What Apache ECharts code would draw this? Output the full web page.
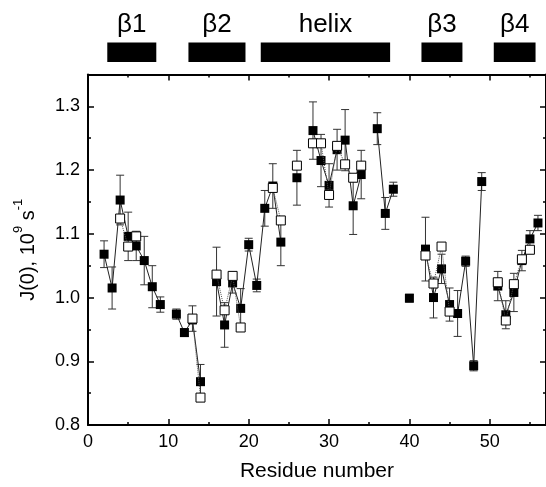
<!DOCTYPE html>
<html><head><meta charset="utf-8">
<script src="https://cdn.jsdelivr.net/npm/echarts@6/dist/echarts.min.js"></script>
<style>html,body{margin:0;padding:0;background:#fff}#c{width:546px;height:487px}</style>
</head><body><div id="c"></div>
<script>
// Residue numbers (gaps = missing residues)
const residues = [2,3,4,5,6,7,8,9,10,11,12,13,14,15,16,17,18,19,20,21,22,23,24,25,26,27,28,29,30,31,32,33,34,35,36,37,38,39,40,41,42,43,44,45,46,47,48,49,50,51,52,53,54,55,56];
// J(0), filled squares
const jFilled = [1.068,1.015,1.153,1.096,1.081,1.058,1.017,0.989,null,0.974,0.945,0.965,0.868,null,1.025,0.957,1.023,0.983,1.083,1.019,1.140,1.175,1.087,null,1.188,null,1.262,1.215,1.176,1.232,1.247,1.144,1.193,null,1.265,1.132,1.170,null,0.999,null,1.076,1.000,1.045,0.989,0.975,1.057,0.893,1.182,null,1.018,0.973,1.008,1.058,1.092,1.117];
const errFilled = [0.021,0.033,0.039,0.038,0.023,0.038,0.033,0.012,null,0.008,0.006,0.006,0.027,null,0.054,0.035,0.016,0.031,0.010,0.010,0.028,0.035,0.037,null,0.043,null,0.045,0.041,0.034,0.032,0.048,0.045,0.038,null,0.025,0.025,0.011,null,0.006,null,0.050,0.032,0.023,0.026,0.036,0.008,0.008,0.014,null,0.023,0.022,0.030,0.016,0.013,0.012];
// J(0), open squares
const jOpen = [null,null,1.124,1.080,1.096,null,null,null,null,null,null,0.967,0.843,null,1.036,0.980,1.034,0.953,null,null,null,1.172,1.121,null,1.207,null,1.242,1.242,1.161,1.238,1.209,1.188,1.207,null,null,null,null,null,null,null,1.066,1.022,1.080,0.978,null,null,null,null,null,1.024,0.964,1.021,1.060,1.075,null];
const errOpen = [null,null,null,null,null,null,null,null,null,null,null,0.020,null,null,null,null,null,null,null,null,null,null,null,null,null,null,null,null,null,null,null,null,null,null,null,null,null,null,null,null,null,null,null,null,null,null,null,null,null,null,null,null,null,null,null];
// Secondary structure elements
const ssNames = ['\u03b21','\u03b22','helix','\u03b23','\u03b24'];
const ssStart = [2.4,12.5,21.5,41.5,50.5];
const ssEnd = [8.5,19.6,37.6,46.6,55.7];
// Axis ticks
const xMin = 0, xMax = 57, xMajor = 10, xMinor = 5;
const yMin = 0.8, yMax = 1.35, yMajor = 0.1, yMinor = 0.05;

const FONT = '"Liberation Sans", Arial, sans-serif';
const chart = echarts.init(document.getElementById('c'));

function pts(vals){ return residues.map((r,i)=>[r, vals[i]==null?'-':vals[i]]); }
function errData(vals, errs){
  const out=[];
  residues.forEach((r,i)=>{ if(vals[i]!=null && errs[i]!=null) out.push([r, vals[i], errs[i]]); });
  return out;
}
function errRender(params, api){
  const x=api.value(0), v=api.value(1), e=api.value(2);
  const hi=api.coord([x, v+e]), lo=api.coord([x, v-e]);
  const cw=4;
  const st={stroke:'#333', lineWidth:1};
  return {type:'group', children:[
    {type:'line', shape:{x1:hi[0],y1:hi[1],x2:lo[0],y2:lo[1]}, style:st},
    {type:'line', shape:{x1:hi[0]-cw,y1:hi[1],x2:hi[0]+cw,y2:hi[1]}, style:st},
    {type:'line', shape:{x1:lo[0]-cw,y1:lo[1],x2:lo[0]+cw,y2:lo[1]}, style:st}
  ]};
}
const isMult=(v,s)=>Math.abs(v/s-Math.round(v/s))<1e-6;

function xAx(pos, interval, len, major, withLabel){
  return {type:'value', min:xMin, max:xMax, interval:interval, position:pos,
    axisLine:{show:major, onZero:false, lineStyle:{color:'#000', width:2}},
    axisTick:{show:true, inside:true, length:len, lineStyle:{color:'#000', width:1.5}},
    axisLabel:{show:withLabel, color:'#000', fontSize:18, fontFamily:FONT, margin:8, showMaxLabel:false,
      formatter:v=>isMult(v,xMajor)&&v<=50?String(v):''},
    splitLine:{show:false},
    name: withLabel?'Residue number':'', nameLocation:'middle', nameGap:36,
    nameTextStyle:{color:'#000', fontSize:21, fontFamily:FONT}};
}
function yAx(pos, interval, len, major, withLabel){
  return {type:'value', min:yMin, max:yMax, interval:interval, position:pos,
    axisLine:{show:major, onZero:false, lineStyle:{color:'#000', width:2}},
    axisTick:{show:true, inside:true, length:len, lineStyle:{color:'#000', width:1.5}},
    axisLabel:{show:withLabel, color:'#000', fontSize:18, fontFamily:FONT, margin:8, showMaxLabel:false,
      formatter:v=>isMult(v,yMajor)&&v<1.31?v.toFixed(1):''},
    splitLine:{show:false},
    name: withLabel?'{a|J(0), 10}{s|9}{a| s}{s|-1}':'', nameLocation:'middle', nameGap:50, nameRotate:90,
    nameTextStyle:{color:'#000', fontFamily:FONT,
      rich:{a:{fontSize:20, fontFamily:FONT, color:'#000', lineHeight:26, verticalAlign:'bottom'},
            s:{fontSize:13, fontFamily:FONT, color:'#000', lineHeight:26, verticalAlign:'top'}}}};
}

chart.setOption({
  animation:false,
  backgroundColor:'#fff',
  grid:{left:88, right:0, top:74.5, bottom:59.7, containLabel:false},
  xAxis:[xAx('bottom',xMajor,6,true,true), xAx('bottom',xMinor,3,false,false),
         xAx('top',xMajor,6,true,false), xAx('top',xMinor,3,false,false)],
  yAxis:[yAx('left',yMajor,6,true,true), yAx('left',yMinor,3,false,false),
         yAx('right',yMajor,6,true,false), yAx('right',yMinor,3,false,false)],
  series:[
    {type:'custom', name:'errFilled', xAxisIndex:0, yAxisIndex:0, renderItem:errRender, data:errData(jFilled,errFilled), z:2, silent:true},
    {type:'custom', name:'errOpen', xAxisIndex:0, yAxisIndex:0, renderItem:errRender, data:errData(jOpen,errOpen), z:2, silent:true},
    {type:'line', name:'filled', xAxisIndex:0, yAxisIndex:0, data:pts(jFilled), symbol:'rect', symbolSize:9, showSymbol:true,
      connectNulls:false, itemStyle:{color:'#000'}, lineStyle:{color:'#222', width:1}, z:3},
    {type:'line', name:'open', xAxisIndex:0, yAxisIndex:0, data:pts(jOpen), symbol:'rect', symbolSize:9, showSymbol:true,
      connectNulls:false, itemStyle:{color:'#fff', borderColor:'#000', borderWidth:1}, lineStyle:{color:'#555', width:1, type:'dotted'}, z:4},
    {type:'custom', name:'ss', xAxisIndex:0, yAxisIndex:0, clip:false, silent:true, z:5,
      data: ssStart.map((s,i)=>[s, ssEnd[i], i]),
      renderItem:(params, api)=>{
        const s=api.value(0), e=api.value(1), k=api.value(2);
        const p1=api.coord([s, yMax]), p2=api.coord([e, yMax]);
        return {type:'group', children:[
          {type:'rect', shape:{x:p1[0], y:42.5, width:p2[0]-p1[0], height:19.5}, style:{fill:'#000'}},
          {type:'text', style:{text:ssNames[k], x:(p1[0]+p2[0])/2, y:25, align:'center', verticalAlign:'middle',
            fontSize:26, fontFamily:FONT, fill:'#000'}}
        ]};
      }}
  ]
});
</script>
</body></html>
